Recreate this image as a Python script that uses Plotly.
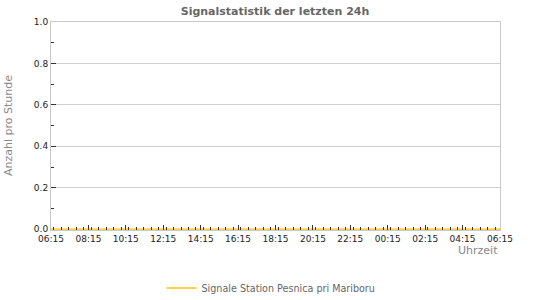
import plotly.graph_objects as go
import pandas as pd

# Data
times = pd.date_range("2024-01-01 06:15", "2024-01-02 06:15", freq="1h").strftime("%Y-%m-%d %H:%M").tolist()
signals = [0, 0, 0, 0, 0, 0, 0, 0, 0, 0, 0, 0, 0, 0, 0, 0, 0, 0, 0, 0, 0, 0, 0, 0, 0]
series_name = "Signale Station Pesnica pri Mariboru"
title_text = "Signalstatistik der letzten 24h"
y_title = "Anzahl pro Stunde"
x_title = "Uhrzeit"

FONT = "DejaVu Sans, Verdana, sans-serif"

fig = go.Figure()
fig.add_trace(go.Scatter(
    x=times, y=signals, mode="lines", name=series_name,
    line=dict(color="#FFD04A", width=2),
))

fig.update_layout(
    width=550, height=300,
    margin=dict(l=51, r=50, t=22, b=70, autoexpand=False),
    paper_bgcolor="white", plot_bgcolor="white",
    font=dict(family=FONT, size=9, color="#222"),
    title=dict(text="<b>" + title_text + "</b>", x=0.5, xanchor="center",
               y=1 - 11 / 300, yanchor="middle",
               font=dict(size=11, color="#666", family=FONT)),
    showlegend=True,
    legend=dict(orientation="h", x=0.49, xanchor="center", yref="container", y=1 - 288 / 300, yanchor="middle",
                font=dict(size=9.6, color="#666", family=FONT)),
)

fig.update_xaxes(
    type="date",
    range=["2024-01-01 06:15", "2024-01-02 06:15"],
    tick0="2024-01-01 06:15", dtick=2 * 3600 * 1000,
    tickformat="%H:%M",
    ticks="inside", ticklen=5, tickcolor="#333", tickwidth=1,
    minor=dict(dtick=24 * 60 * 1000, ticks="inside", ticklen=3, tickcolor="#333", showgrid=False),
    showgrid=False,
    showline=True, linecolor="#c8c8c8", linewidth=1, mirror=True,
    zeroline=False, automargin=False,
    tickfont=dict(size=9, color="#222"),
)

fig.update_yaxes(
    range=[-0.004, 1.0],
    tick0=0, dtick=0.2, tickformat=".1f",
    ticks="inside", ticklen=5, tickcolor="#333", tickwidth=1,
    minor=dict(dtick=0.1, ticks="inside", ticklen=3, tickcolor="#333", showgrid=False),
    showgrid=True, gridcolor="#d0d0d0", gridwidth=1,
    showline=True, linecolor="#c8c8c8", linewidth=1, mirror=True,
    zeroline=False, automargin=False,
    tickfont=dict(size=9, color="#222"),
)

fig.add_annotation(
    text=y_title, xref="paper", yref="paper", x=-43 / 449, y=0.5, xanchor="center", yanchor="middle",
    textangle=-90, showarrow=False, font=dict(size=11, color="#888", family=FONT),
)

fig.add_annotation(
    text=x_title, xref="paper", yref="paper", x=1.0, y=-20 / 208, xanchor="right", yanchor="middle",
    showarrow=False, font=dict(size=11, color="#888", family=FONT),
)

fig.write_html("out.html")
